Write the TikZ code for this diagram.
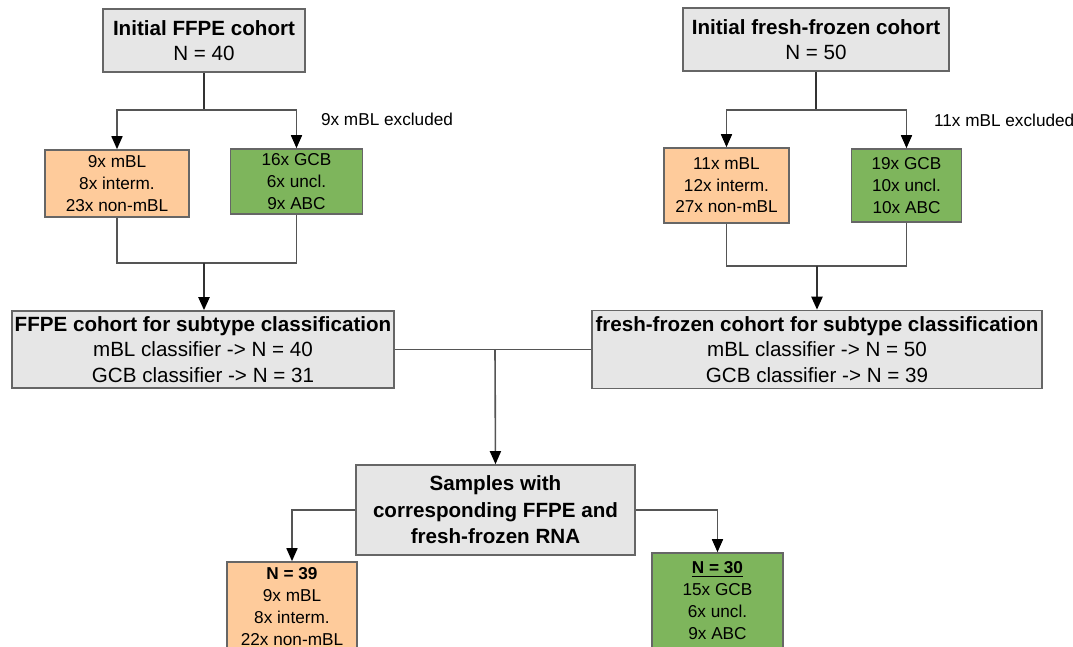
\documentclass[tikz,border=0pt]{standalone}
\usepackage{fontspec}
\setmainfont{Liberation Sans}
\usetikzlibrary{arrows.meta}
\definecolor{boxgray}{HTML}{E6E6E6}
\definecolor{boxline}{HTML}{666666}
\definecolor{peach}{HTML}{FECB9B}
\definecolor{leaf}{HTML}{7EB55C}
\definecolor{wirecol}{HTML}{555555}
\begin{document}
\begin{tikzpicture}[x=0.5pt,y=-0.5pt,
  base/.style={draw=boxline, line width=0.8pt, inner sep=0pt, align=center, anchor=center},
  graybox/.style={base, fill=boxgray},
  peachbox/.style={base, fill=peach},
  leafbox/.style={base, fill=leaf},
  big/.style={font=\fontsize{10.3}{12.8}\selectfont},
  small/.style={font=\fontsize{8.6}{10.8}\selectfont},
  wire/.style={draw=wirecol, line width=0.8pt},
  trunk/.style={draw=black!80, line width=1.1pt},
  arr/.style={-{Triangle[width=5.5pt,length=6.5pt,color=black,fill=black]}},
]
\useasboundingbox (0,0) rectangle (1073,647);
\clip (0,0) rectangle (1073,647);

% top boxes
\node[graybox, big, minimum width=101pt, minimum height=31.5pt] (tl) at (204,40.5)
  {\textbf{Initial FFPE cohort}\\N = 40};
\node[graybox, big, minimum width=133pt, minimum height=31.5pt] (tr) at (816,39.5)
  {\textbf{Initial fresh-frozen cohort}\\N = 50};

% second row
\node[peachbox, small, minimum width=72pt, minimum height=33.5pt] (o1) at (117,183.5)
  {9x mBL\\8x interm.\\23x non-mBL};
\node[leafbox, small, minimum width=66pt, minimum height=32.5pt] (g1) at (296.5,181.5)
  {16x GCB\\6x uncl.\\9x ABC};
\node[peachbox, small, minimum width=62.5pt, minimum height=37.5pt] (o2) at (726.5,185.5)
  {11x mBL\\12x interm.\\27x non-mBL};
\node[leafbox, small, minimum width=55pt, minimum height=36.5pt] (g2) at (906.5,185.5)
  {19x GCB\\10x uncl.\\10x ABC};

\node[small, anchor=west] (ex1) at (314,119) {9x mBL excluded};
\node[small, anchor=west] (ex2) at (927,120) {11x mBL excluded};

% classification boxes
\node[graybox, big, minimum width=191pt, minimum height=38.5pt] (c1) at (203,349.5)
  {\textbf{FFPE cohort for subtype classification}\\mBL classifier -> N = 40\\GCB classifier -> N = 31};
\node[graybox, big, minimum width=225pt, minimum height=39pt] (c2) at (817,349.5)
  {\textbf{fresh-frozen cohort for subtype classification}\\mBL classifier -> N = 50\\GCB classifier -> N = 39};

% samples box
\node[graybox, font=\fontsize{10.3}{13.3}\selectfont, minimum width=139.5pt, minimum height=45pt] (s) at (495.5,510)
  {\textbf{Samples with}\\\textbf{corresponding FFPE and}\\\textbf{fresh-frozen RNA}};

% bottom boxes
\node[peachbox, font=\fontsize{8.6}{11}\selectfont, minimum width=65pt, minimum height=44.5pt] (o3) at (292,606.5)
  {\textbf{N = 39}\\9x mBL\\8x interm.\\22x non-mBL};
\node[leafbox, font=\fontsize{8.6}{11}\selectfont, minimum width=65.5pt, minimum height=47.5pt] (g3) at (717.5,600.5)
  {\underline{\textbf{N = 30}}\\15x GCB\\6x uncl.\\9x ABC};

% connectors left
\coordinate (j1) at (204,110);
\draw[trunk] (tl.south) -- (j1);
\draw[wire,arr] (j1) -| (o1.north);
\draw[wire,arr] (j1) -| (g1.north);
\coordinate (m1) at (204,263);
\draw[wire] (o1.south) |- (m1);
\draw[wire] (g1.south) |- (m1);
\draw[trunk,arr] (m1) -- (m1 |- c1.north);

% connectors right
\coordinate (j2) at (816,110);
\draw[trunk] (tr.south) -- (j2);
\draw[wire,arr] (j2) -| (o2.north);
\draw[wire,arr] (j2) -| (g2.north);
\coordinate (m2) at (817,266);
\draw[wire] (o2.south) |- (m2);
\draw[wire] (g2.south) |- (m2);
\draw[trunk,arr] (m2) -- (m2 |- c2.north);

% center
\draw[wire] (c1.east) -- (c2.west);
\coordinate (h) at (495,349.5);
\draw[wire,arr] (h) -- (s.north);
\draw[wire,arr] (s.west) -| (o3.north);
\draw[wire,arr] (s.east) -| (g3.north);
\end{tikzpicture}
\end{document}
